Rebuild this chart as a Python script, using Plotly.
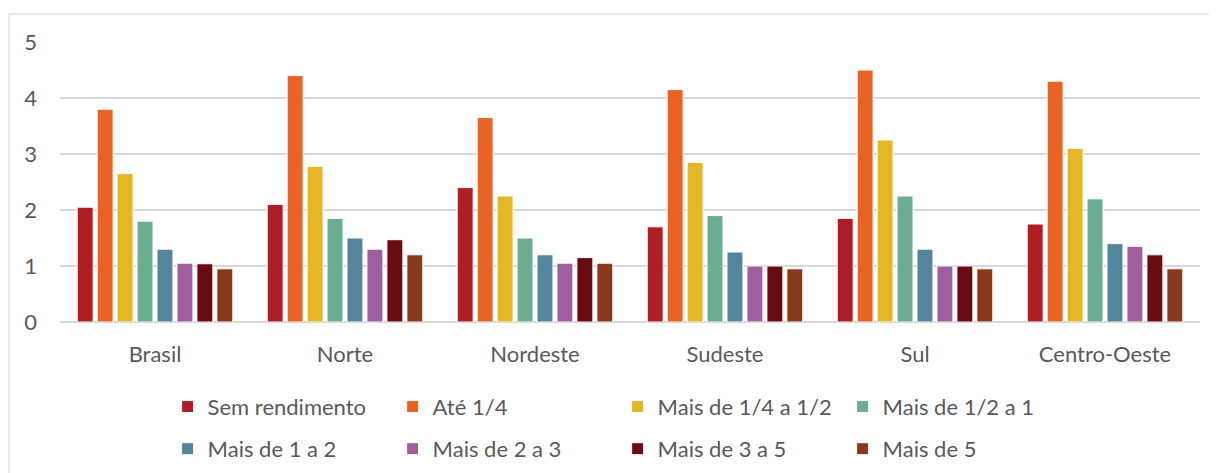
import plotly.graph_objects as go

regioes = ['Brasil', 'Norte', 'Nordeste', 'Sudeste', 'Sul', 'Centro-Oeste']

faixas = ['Sem rendimento', 'Até 1/4', 'Mais de 1/4 a 1/2', 'Mais de 1/2 a 1',
          'Mais de 1 a 2', 'Mais de 2 a 3', 'Mais de 3 a 5', 'Mais de 5']

sem_rendimento = [2.05, 2.10, 2.40, 1.70, 1.85, 1.75]
ate_1_4 = [3.80, 4.40, 3.65, 4.15, 4.50, 4.30]
mais_1_4_a_1_2 = [2.65, 2.78, 2.25, 2.85, 3.25, 3.10]
mais_1_2_a_1 = [1.80, 1.85, 1.50, 1.90, 2.25, 2.20]
mais_1_a_2 = [1.30, 1.50, 1.20, 1.25, 1.30, 1.40]
mais_2_a_3 = [1.05, 1.30, 1.05, 1.00, 1.00, 1.35]
mais_3_a_5 = [1.04, 1.47, 1.15, 1.00, 1.00, 1.20]
mais_5 = [0.95, 1.20, 1.05, 0.95, 0.95, 0.95]

valores = [sem_rendimento, ate_1_4, mais_1_4_a_1_2, mais_1_2_a_1,
           mais_1_a_2, mais_2_a_3, mais_3_a_5, mais_5]

cores = ['#AE1E24', '#E96424', '#E5B724', '#6AAD91',
         '#55859D', '#9F5F9F', '#690C12', '#8A3A1C']

FONTE = 'Lato'
CINZA = '#595959'

fig = go.Figure()
for i, (nome, vals, cor) in enumerate(zip(faixas, valores, cores)):
    fig.add_trace(go.Bar(
        x=regioes, y=vals, name=nome,
        marker=dict(color=cor, line=dict(color='white', width=1)),
        legend='legend' if i < 4 else 'legend2',
    ))

# a página tem 8px de margem no body: a figura começa em (8, 8)
leg_common = dict(orientation='h', xanchor='left', yanchor='middle', x=0.0944,
                  font=dict(family=FONTE, size=22, color=CINZA),
                  entrywidth=180, itemwidth=30, bgcolor='rgba(0,0,0,0)',
                  traceorder='normal')

fig.update_layout(
    width=1217, height=473,
    margin=dict(l=52, r=25, t=34, b=158),
    paper_bgcolor='white', plot_bgcolor='white',
    barmode='group', bargap=0.16, bargroupgap=0.2,
    font=dict(family=FONTE, color=CINZA, size=22),
    legend=dict(y=-0.298, **leg_common),
    legend2=dict(y=-0.448, **leg_common),
    xaxis=dict(showline=False, showgrid=False, ticks='',
               tickfont=dict(family=FONTE, size=22, color=CINZA),
               ticklabelstandoff=17),
    yaxis=dict(range=[0, 5], dtick=1, showgrid=True, gridcolor='#D9D9D9',
               gridwidth=1.5, zeroline=True, zerolinecolor='#D9D9D9',
               zerolinewidth=1.5, showline=False, ticks='',
               tickfont=dict(family=FONTE, size=22, color=CINZA),
               ticklabelstandoff=22),
    shapes=[dict(type='rect', xref='paper', yref='paper',
                 x0=(1 - 52) / 1140, x1=(1240 - 52) / 1140,
                 y0=-(500 - 314.7) / 280.7, y1=(314.7 - 6) / 280.7,
                 line=dict(color='#D9D9D9', width=1), layer='below')],
)

fig.write_html('out.html')
